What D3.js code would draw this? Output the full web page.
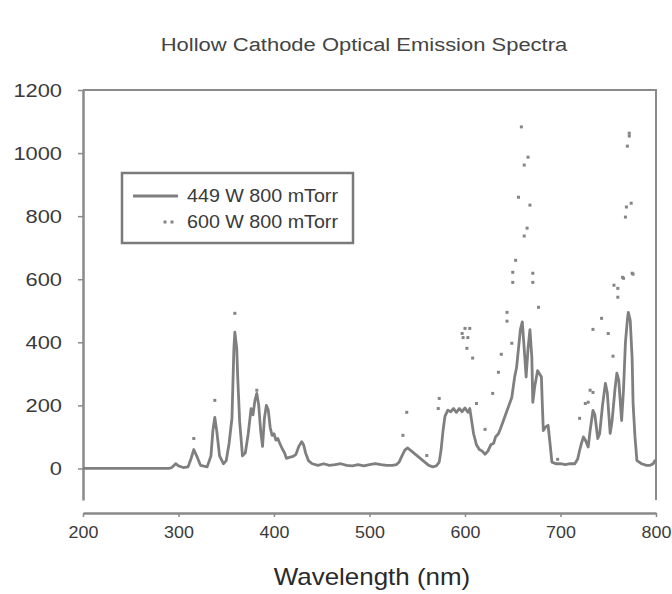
<!DOCTYPE html>
<html>
<head>
<meta charset="utf-8">
<script src="https://cdn.jsdelivr.net/npm/d3@7"></script>
<style>
  html, body { margin: 0; padding: 0; background: #fff; }
  svg { display: block; }
  text { font-family: "Liberation Sans", Arial, sans-serif; }
</style>
</head>
<body>
<svg id="chart" width="672" height="594"></svg>
<script>
// 449 W 800 mTorr spectrum (solid line)
const wl449 = [200,290,293,297,300,305,310,313,316,319,323,330,334,336,338,340,343,347,350,353,356,358,359,361,362,364,367,370,373,376,378,380,382,384,386,388,390,392,394,396,398,400,402,404,406,409,411,413,416,420,423,426,429,431,433,436,440,446,452,458,464,470,476,482,488,494,500,506,512,518,524,528,531,534,537,540,544,550,556,562,566,570,573,575,577,579,582,585,588,591,594,597,600,603,605,607,609,612,615,618,621,624,627,630,632,635,637,640,643,646,649,652,654,656,658,660,662,664,666,668,670,671,673,676,678,680,681,682,684,687,689,691,695,700,705,710,715,718,720,722,724,726,729,731,734,736,739,741,744,747,749,752,754,757,759,761,764,766,768,770,771,773,775,776,778,780,785,790,794,797,799,800];
const int449 = [0,0,3,15,8,3,5,30,60,40,10,5,40,120,162,120,40,15,25,80,160,380,432,380,290,150,40,50,110,190,170,215,238,200,120,70,160,200,185,130,105,110,90,95,80,60,50,32,35,38,45,70,85,75,50,25,15,10,15,10,12,15,10,8,12,8,12,15,12,10,10,12,20,40,58,65,55,40,25,10,5,8,20,60,120,165,185,180,190,178,190,180,192,178,190,150,110,75,60,55,45,55,75,80,100,110,125,150,175,200,225,290,320,380,440,465,380,290,380,440,350,210,260,310,300,290,200,120,130,137,80,20,15,15,12,15,15,30,57,80,100,90,68,120,184,170,95,110,200,270,240,111,150,250,302,280,152,250,400,470,495,470,350,206,100,25,15,10,10,15,25,25];

// 600 W 800 mTorr spectrum (dotted series, visible dots)
const wl600 = [316,338,359,382,535,539,560,572,573,597,598,600,602,603,605,608,612,621,629,635,638,644,644,649,650,650,653,656,659,662,662,665,666,668,671,671,677,697,720,726,729,731,734,734,743,750,755,756,760,760,765,766,768,769,770,772,772,774,775,776];
const int600 = [95,216,492,248,105,178,41,190,222,428,415,444,381,415,444,350,206,124,238,305,362,467,495,397,590,622,660,860,1083,962,737,762,987,835,619,590,511,29,159,206,210,248,241,441,476,428,356,581,571,543,606,603,797,829,1022,1063,1054,841,619,616];

const xTicks = [200,300,400,500,600,700,800];
const yTicks = [0,200,400,600,800,1000,1200];
const seriesNames = ["449 W 800 mTorr", "600 W 800 mTorr"];

const svg = d3.select("#chart");
const x = d3.scaleLinear().domain([200, 800]).range([83, 656]);
const y = d3.scaleLinear().domain([-100, 1200]).range([500, 90]);

const axisColor = "#8a8a8a";
const textColor = "#3a3a3a";

// widen a text element's glyphs by a factor (the lettering is set wide)
function widen(sel, factor) {
  sel.each(function () {
    const w = this.getComputedTextLength();
    d3.select(this).attr("textLength", w * factor).attr("lengthAdjust", "spacingAndGlyphs");
  });
}

// title
svg.append("text")
  .attr("x", 364).attr("y", 51)
  .attr("text-anchor", "middle")
  .attr("font-size", 18)
  .attr("fill", "#444")
  .text("Hollow Cathode Optical Emission Spectra")
  .call(widen, 1.22);

// plot frame: top and right edges
svg.append("path")
  .attr("d", `M${x(200)},${y(1200)}H${x(800)}V${y(-100)}`)
  .attr("fill", "none").attr("stroke", axisColor).attr("stroke-width", 2);

// y axis
const yAxis = svg.append("g")
  .attr("transform", `translate(${x(200)},0)`)
  .call(d3.axisLeft(y).tickValues(yTicks).tickFormat(d3.format("d"))
    .tickSize(5).tickPadding(16).tickSizeOuter(0));
yAxis.select(".domain").attr("stroke", axisColor).attr("stroke-width", 2.5);
yAxis.selectAll(".tick line").attr("stroke", axisColor).attr("stroke-width", 1.5);
yAxis.selectAll(".tick text").attr("font-size", 19).attr("fill", textColor)
  .attr("font-family", "Liberation Sans, Arial, sans-serif")
  .call(widen, 1.15);

// x axis, set below the plot
const xAxis = svg.append("g")
  .attr("transform", "translate(0,513)")
  .call(d3.axisBottom(x).tickValues(xTicks).tickFormat(d3.format("d"))
    .tickSize(4).tickPadding(9).tickSizeOuter(0));
xAxis.select(".domain").attr("stroke", axisColor).attr("stroke-width", 2.5);
xAxis.selectAll(".tick line").attr("stroke", axisColor).attr("stroke-width", 1.5);
xAxis.selectAll(".tick text").attr("font-size", 17).attr("fill", textColor)
  .attr("font-family", "Liberation Sans, Arial, sans-serif")
  .call(widen, 1.05);

// x axis title
svg.append("text")
  .attr("x", 372).attr("y", 585)
  .attr("text-anchor", "middle")
  .attr("font-size", 24)
  .attr("fill", "#2a2a2a")
  .text("Wavelength (nm)")
  .call(widen, 1.08);

// 449 W line
const line = d3.line().x(d => x(d[0])).y(d => y(d[1]));
svg.append("path")
  .datum(d3.zip(wl449, int449))
  .attr("d", line)
  .attr("fill", "none")
  .attr("stroke", "#7f7f7f")
  .attr("stroke-width", 2.8)
  .attr("stroke-linejoin", "round");

// 600 W dots
svg.append("g")
  .selectAll("rect")
  .data(d3.zip(wl600, int600))
  .join("rect")
  .attr("x", d => x(d[0]) - 1.5)
  .attr("y", d => y(d[1]) - 1.5)
  .attr("width", 3).attr("height", 3)
  .attr("fill", "#858585");

// legend
const lg = svg.append("g");
lg.append("rect")
  .attr("x", 122).attr("y", 173).attr("width", 231).attr("height", 70)
  .attr("fill", "#fff").attr("stroke", "#7a7a7a").attr("stroke-width", 2.5);
lg.append("line")
  .attr("x1", 133).attr("x2", 178).attr("y1", 196).attr("y2", 196)
  .attr("stroke", "#7f7f7f").attr("stroke-width", 2.8);
[165, 172].forEach(cx => lg.append("rect")
  .attr("x", cx - 1.5).attr("y", 220.5).attr("width", 3).attr("height", 3)
  .attr("fill", "#858585"));
seriesNames.forEach((name, i) => lg.append("text")
  .attr("x", 187).attr("y", 202 + i * 26)
  .attr("font-size", 19).attr("fill", textColor)
  .attr("textLength", 151).attr("lengthAdjust", "spacingAndGlyphs")
  .text(name));
</script>
</body>
</html>
